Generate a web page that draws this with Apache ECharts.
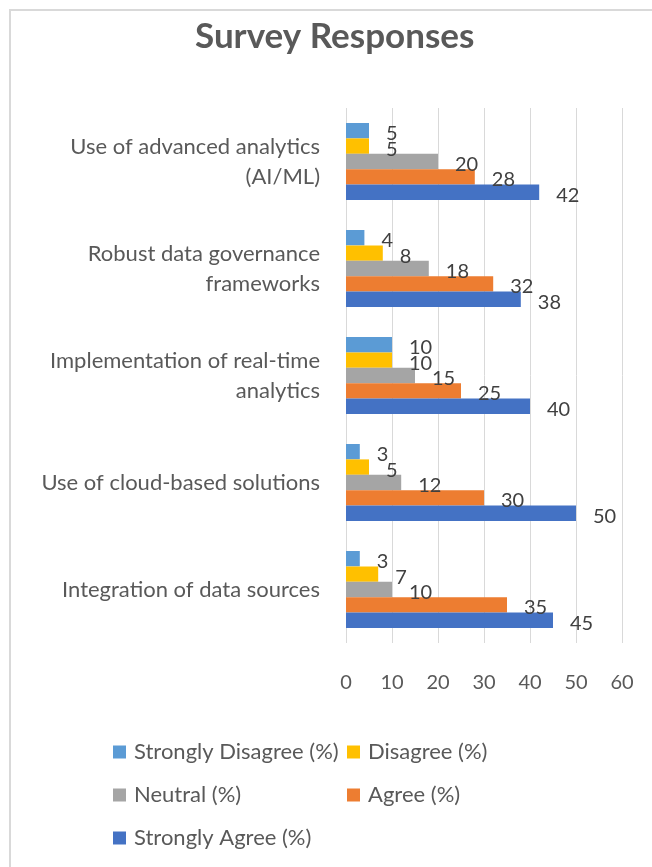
<!DOCTYPE html>
<html>
<head>
<meta charset="utf-8">
<script src="https://cdn.jsdelivr.net/npm/echarts@6/dist/echarts.min.js"></script>
<style>
html,body{margin:0;padding:0;background:#fff;}
#main{width:652px;height:867px;}
</style>
</head>
<body>
<div id="main"></div>
<script>
// Categories (bottom to top, as on the axis)
const categories = [
  'Integration of data sources',
  'Use of cloud-based solutions',
  'Implementation of real-time\nanalytics',
  'Robust data governance\nframeworks',
  'Use of advanced analytics\n(AI/ML)'
];
const seriesNames = ['Strongly Disagree (%)', 'Disagree (%)', 'Neutral (%)', 'Agree (%)', 'Strongly Agree (%)'];
const stronglyDisagree = [3, 3, 10, 4, 5];
const disagree = [7, 5, 10, 8, 5];
const neutral = [10, 12, 15, 18, 20];
const agree = [35, 30, 25, 32, 28];
const stronglyAgree = [45, 50, 40, 38, 42];
const xTicks = [0, 10, 20, 30, 40, 50, 60];

const colors = ['#5B9BD5', '#FFC000', '#A5A5A5', '#ED7D31', '#4472C4'];
const values = [stronglyDisagree, disagree, neutral, agree, stronglyAgree];
const FONT = 'Lato, "Open Sans", sans-serif';

const series = seriesNames.map((name, i) => ({
  name: name,
  type: 'bar',
  data: values[i],
  barWidth: 15.4,
  barGap: '0%',
  itemStyle: { color: colors[i] },
  label: {
    show: true,
    position: 'right',
    distance: 17,
    offset: [0, 3],
    color: '#404040',
    fontSize: 20,
    fontFamily: FONT
  }
}));

const legendText = { fontFamily: FONT, fontSize: 22, color: '#595959', lineHeight: 22, padding: [0, 0, 0, 3] };

const chart = echarts.init(document.getElementById('main'), null, { renderer: 'canvas' });
chart.setOption({
  animation: false,
  backgroundColor: '#ffffff',
  color: colors,
  title: {
    text: 'Survey Responses',
    left: 195,
    top: 19,
    padding: 0,
    textStyle: { fontFamily: FONT, fontWeight: 'bold', fontSize: 35, color: '#595959' }
  },
  graphic: [{
    type: 'rect',
    shape: { x: 10, y: 10, width: 700, height: 900 },
    style: { fill: 'none', stroke: '#d9d9d9', lineWidth: 2 },
    silent: true
  }],
  legend: [
    {
      orient: 'vertical',
      left: 113, top: 741,
      padding: 0,
      itemWidth: 13, itemHeight: 13,
      itemGap: 21,
      icon: 'rect',
      data: [seriesNames[0], seriesNames[2], seriesNames[4]],
      textStyle: legendText
    },
    {
      orient: 'vertical',
      left: 347, top: 741,
      padding: 0,
      itemWidth: 13, itemHeight: 13,
      itemGap: 21,
      icon: 'rect',
      data: [seriesNames[1], seriesNames[3]],
      textStyle: legendText
    }
  ],
  grid: { left: 346, right: 30, top: 108, bottom: 224, containLabel: false },
  xAxis: {
    type: 'value',
    min: xTicks[0], max: xTicks[xTicks.length - 1], interval: 10,
    axisLine: { show: false },
    axisTick: { show: false },
    splitLine: { show: true, lineStyle: { color: '#d9d9d9', width: 1 } },
    axisLabel: { margin: 30, color: '#595959', fontSize: 20, fontFamily: FONT }
  },
  yAxis: {
    type: 'category',
    data: categories,
    axisLine: { show: false },
    axisTick: { show: false },
    axisLabel: { margin: 26, color: '#595959', fontSize: 22, lineHeight: 30, fontFamily: FONT, align: 'right' }
  },
  series: series
});
</script>
</body>
</html>
